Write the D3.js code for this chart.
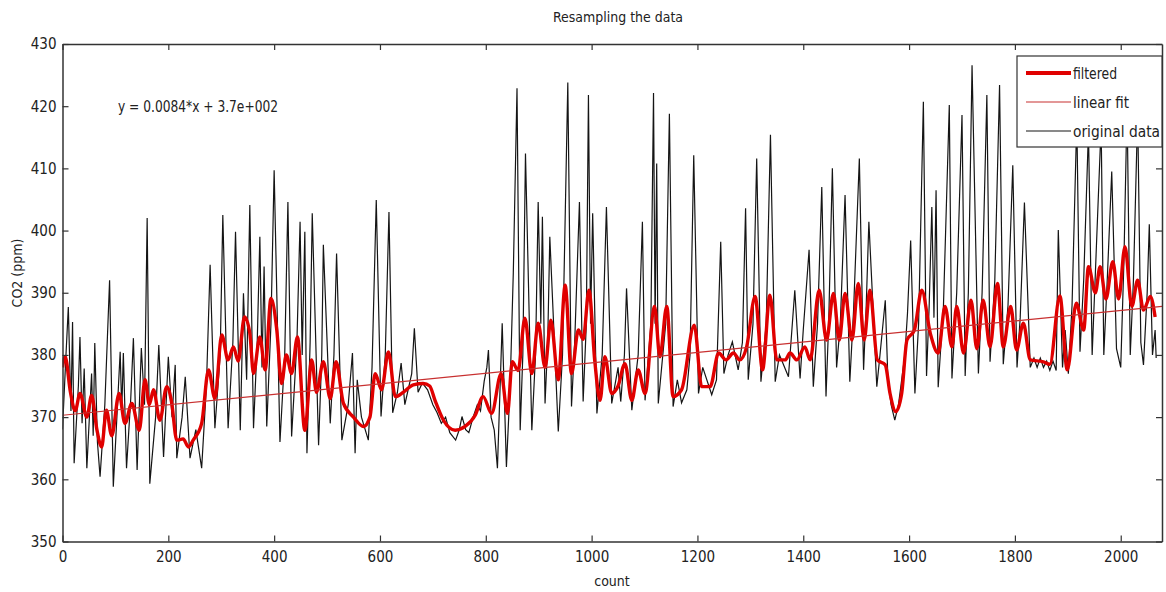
<!DOCTYPE html>
<html>
<head>
<meta charset="utf-8">
<script src="https://cdn.jsdelivr.net/npm/d3@7"></script>
<style>
  body { margin: 0; background: #fff; }
  svg text { font-family: "Liberation Sans Narrow", "DejaVu Sans Condensed", "Liberation Sans", sans-serif; fill: #222; }
</style>
</head>
<body>
<svg id="chart" width="1166" height="592"></svg>
<script>
// values: [count, CO2 ppm]
const original = [
  [0,368],[6,379],[11,387.7],[16,371],[19,385.3],[22,362.6],[30,375],[33,382.9],[37,369],[41,377.8],
  [46,361.8],[52,372],[55,377],[58,367],[61,381.9],[66,366],[71,360.4],[80,372],[89,392],[96,358.8],
  [104,372],[109,380.5],[112,371],[115,380.3],[121,361.8],[129,373],[134,382.7],[141,361.5],[149,381.1],[155,372],
  [160,402],[165,359.3],[176,370],[182,381.6],[191,363.6],[200,379.7],[207,370],[213,378.4],[216,363.4],[226,370],
  [232,376.5],[241,363.4],[252,368],[263,361.8],[272,375],[279,394.5],[288,368.2],[298,380],[303,402.5],[313,368.2],
  [322,382],[327,399.8],[336,367.9],[342,389.9],[348,376],[354,404.1],[361,368.2],[368,382],[373,399],[377,378],
  [381,394.2],[386,368.5],[394,385],[400,409.7],[411,366],[420,380],[426,404.6],[433,366.9],[443,382],[449,401.4],
  [453,380],[458,399.8],[462,364.2],[468,382],[472,402.8],[484,365.5],[490,380],[493,397.7],[506,369],[513,380],
  [518,396.3],[528,366.3],[540,372],[548,380.3],[553,364.2],[557,376],[565,370],[578,366.3],[585,378],[593,404.9],
  [602,370.1],[610,380],[617,403],[624,370.7],[633,374],[640,378.7],[647,372],[660,377],[665,384.3],[672,374],
  [680,375.5],[690,374.4],[700,372],[708,370.7],[716,369],[724,370],[732,367.5],[743,366.3],[750,368],[755,370.1],
  [762,368],[768,367.5],[776,370],[784,372],[790,371],[797,375.8],[802,378],[805,380.8],[810,370],[816,367.9],
  [822,361.8],[831,385.1],[839,362],[846,375],[852,393.2],[859,422.9],[865,367.9],[870,380],[875,412.4],[887,367.9],
  [894,380],[899,404.6],[904,385],[907,402.2],[912,372.2],[917,382],[921,399],[937,367.7],[945,380],[955,423.8],
  [962,371.7],[968,382],[977,404.6],[984,372.5],[990,385],[994,421.8],[998,385],[1002,402.8],[1010,370.6],[1020,380],
  [1028,403.8],[1038,372.2],[1050,378],[1055,372.5],[1062,380],[1066,390.7],[1076,371.1],[1088,380],[1096,401.4],[1101,372.7],
  [1112,385],[1117,422.1],[1120,385],[1123,410.8],[1126,372.2],[1140,385],[1147,418.8],[1154,371.7],[1162,376],[1170,372.3],
  [1180,374.4],[1186,380],[1193,412.1],[1202,373.8],[1210,378],[1227,373.6],[1236,376],[1244,398.2],[1250,377],[1258,380],
  [1266,382.1],[1277,377.6],[1285,382],[1291,403.6],[1296,376],[1305,385],[1312,411.6],[1320,375.7],[1330,385],[1338,415.4],
  [1347,375.7],[1355,380],[1360,379],[1372,376.5],[1384,390.4],[1394,376.2],[1400,384],[1411,396.9],[1419,374.9],[1427,385],
  [1435,407],[1443,373.3],[1448,385],[1455,410],[1463,378],[1470,385],[1479,405.7],[1488,375.7],[1495,387],[1506,411.6],
  [1514,377.6],[1519,388],[1524,401.4],[1539,374.9],[1545,380],[1555,388.8],[1560,376],[1566,372],[1573,369.5],[1580,372],
  [1586,376],[1592,380],[1597,386.7],[1603,398.4],[1611,373.8],[1618,385],[1627,420.7],[1633,376.6],[1638,388],[1643,403.8],
  [1647,386],[1651,406.5],[1655,374.8],[1665,388],[1676,420.2],[1681,376.2],[1690,390],[1700,418.6],[1706,376.6],[1712,390],
  [1719,426.6],[1731,377],[1738,390],[1747,421.8],[1753,378.9],[1762,392],[1771,423.4],[1778,378.5],[1787,388],[1796,410.5],
  [1804,378],[1810,386],[1818,404.5],[1829,378],[1836,379.5],[1842,378],[1848,379.5],[1854,378],[1860,379],[1866,377.5],
  [1872,379],[1878,377.5],[1882,400.1],[1890,378],[1895,384],[1901,377],[1908,388],[1917,418],[1923,380.5],[1930,392],
  [1939,416],[1946,380],[1952,393],[1963,417],[1968,380],[1975,393],[1983,409.5],[1992,381],[2000,378],[2006,395],
  [2012,420],[2018,380],[2024,392],[2032,419],[2038,382],[2043,378.4],[2050,390],[2054,401],[2060,380],[2065,384],[2067,379.5]
];

const filtered = [
  [0,378],[5,379.7],[15,374],[24,371],[33,373.8],[46,370],[55,373.5],[65,368],[74,365.2],[83,371.1],
  [93,367],[107,373.8],[118,369],[131,372.2],[145,367.9],[156,376],[164,372],[172,374.4],[184,369.5],[197,374.9],
  [206,372.5],[216,366.3],[228,366.5],[238,365.2],[247,366.3],[263,369],[276,377.6],[288,373],[301,383.2],[313,379.2],
  [323,381.3],[332,379],[344,386.1],[354,383.5],[361,377],[373,382.9],[383,377.6],[394,389.1],[405,384],[414,375.4],
  [423,380],[433,377],[444,382.9],[458,367.9],[471,379.2],[480,374],[493,378.9],[506,373],[517,378.9],[531,372.2],
  [550,370],[569,368.5],[581,370],[591,377],[603,374.4],[616,380.5],[629,373.3],[644,374],[663,375.2],[682,375.4],
  [694,375],[704,372.7],[720,369.5],[742,367.9],[761,368.5],[780,370.3],[795,373.3],[811,370.6],[829,377],[841,370.6],
  [850,378.9],[861,377.5],[874,385.9],[887,377],[899,385.1],[912,378],[923,385.6],[937,376],[950,391.2],[962,377],
  [975,384],[984,382.5],[995,390.4],[1006,379],[1016,372.7],[1025,379.7],[1038,373.8],[1050,375],[1063,378.6],[1076,372.7],
  [1088,377.6],[1101,373.8],[1119,387.8],[1129,379.7],[1142,387.8],[1154,373.3],[1170,374.4],[1194,384.8],[1208,374.9],[1224,374.9],
  [1240,380.3],[1254,379.2],[1268,380.3],[1280,379.2],[1293,381.3],[1309,389.4],[1323,377.6],[1337,389.6],[1350,379.2],[1366,379.2],
  [1375,380.3],[1388,379.2],[1403,381.3],[1413,379.2],[1430,390.4],[1444,382.4],[1457,389.9],[1468,382.4],[1479,389.9],[1492,382.4],
  [1504,391.5],[1515,382.4],[1526,390.4],[1540,379.2],[1555,378.4],[1564,373.8],[1575,370.9],[1586,373.8],[1596,382.4],[1610,384],
  [1624,390.4],[1640,383.5],[1655,380.3],[1668,387.8],[1681,381.3],[1690,387.8],[1703,380.3],[1717,388.8],[1728,381],[1740,388.8],
  [1753,381.3],[1767,391.5],[1778,381.3],[1792,387.8],[1803,380.8],[1816,385.1],[1829,379.2],[1854,378.9],[1866,378.5],[1885,389.5],
  [1899,377.6],[1916,388.3],[1930,384],[1939,394.2],[1952,390],[1961,394.2],[1972,389],[1985,395],[1996,389],[2008,397.4],
  [2021,387.8],[2032,392],[2043,387.2],[2056,389.4],[2065,386.1]
];

const linearFit = [[0,370.3],[2078,387.8]];

const xTicks = [0,200,400,600,800,1000,1200,1400,1600,1800,2000];
const yTicks = [350,360,370,380,390,400,410,420,430];
const legendItems = ["filtered","linear fit","original data"];

const svg = d3.select("#chart");
const mLeft = 62.5, mRight = 1162, mTop = 44, mBottom = 541.5;

const x = d3.scaleLinear().domain([0, 2078]).range([mLeft, mRight]);
const y = d3.scaleLinear().domain([350, 430]).range([mBottom, mTop]);

svg.append("defs").append("clipPath").attr("id","plotclip")
  .append("rect").attr("x",mLeft).attr("y",mTop).attr("width",mRight-mLeft).attr("height",mBottom-mTop);

const line = d3.line().x(d => x(d[0])).y(d => y(d[1]));
const smooth = d3.line().x(d => x(d[0])).y(d => y(d[1])).curve(d3.curveMonotoneX);
const plot = svg.append("g").attr("clip-path","url(#plotclip)");

plot.append("path").datum(original)
  .attr("d", line).attr("fill","none").attr("stroke","#151515").attr("stroke-width",1.2);

plot.append("path").datum(filtered)
  .attr("d", smooth).attr("fill","none")
  .attr("stroke","#e00000").attr("stroke-width",3.4).attr("stroke-linejoin","round");

plot.append("path").datum(linearFit)
  .attr("d", line).attr("fill","none")
  .attr("stroke","#c83030").attr("stroke-width",1.2);

// axes, MATLAB-style box with inward ticks
function styleAxis(g) {
  g.select(".domain").attr("stroke","#333").attr("stroke-width",1.5);
  g.selectAll(".tick line").attr("stroke","#333").attr("stroke-width",1.2);
  g.selectAll(".tick text").style("font-size","15px").attr("fill","#222");
}
const fmt = d3.format("d");
svg.append("g").attr("transform",`translate(0,${mBottom})`)
  .call(d3.axisBottom(x).tickValues(xTicks).tickFormat(fmt).tickSizeInner(-6).tickSizeOuter(0).tickPadding(10))
  .call(styleAxis);
svg.append("g").attr("transform",`translate(0,${mTop})`)
  .call(d3.axisTop(x).tickValues(xTicks).tickSizeInner(-6).tickSizeOuter(0).tickFormat(""))
  .call(styleAxis);
svg.append("g").attr("transform",`translate(${mLeft},0)`)
  .call(d3.axisLeft(y).tickValues(yTicks).tickFormat(fmt).tickSizeInner(-6).tickSizeOuter(0).tickPadding(6))
  .call(styleAxis);
svg.append("g").attr("transform",`translate(${mRight},0)`)
  .call(d3.axisRight(y).tickValues(yTicks).tickSizeInner(-6).tickSizeOuter(0).tickFormat(""))
  .call(styleAxis);

svg.append("text").attr("x",618).attr("y",22).attr("text-anchor","middle")
  .style("font-size","14px").attr("textLength",130).attr("lengthAdjust","spacingAndGlyphs")
  .text("Resampling the data");
svg.append("text").attr("x",612).attr("y",586).attr("text-anchor","middle")
  .style("font-size","14px").text("count");
svg.append("text").attr("transform","translate(22,273) rotate(-90)").attr("text-anchor","middle")
  .style("font-size","14px").text("CO2 (ppm)");
svg.append("text").attr("x",118).attr("y",112)
  .style("font-size","16px").attr("textLength",160).attr("lengthAdjust","spacingAndGlyphs")
  .text("y = 0.0084*x + 3.7e+002");

// legend
const lg = svg.append("g");
lg.append("rect").attr("x",1017).attr("y",56).attr("width",145).attr("height",91)
  .attr("fill","#fff").attr("stroke","#333").attr("stroke-width",1.2);
const legendStroke = ["#e00000","#c83030","#151515"];
const legendWidth = [4,1.2,1.2];
const legendTextW = [44,56,87];
legendItems.forEach((name, i) => {
  const yy = 73 + i * 29;
  lg.append("line").attr("x1",1026).attr("x2",1071).attr("y1",yy).attr("y2",yy)
    .attr("stroke",legendStroke[i]).attr("stroke-width",legendWidth[i]);
  lg.append("text").attr("x",1073).attr("y",yy+6).style("font-size","16px")
    .attr("textLength",legendTextW[i]).attr("lengthAdjust","spacingAndGlyphs").text(name);
});
</script>
</body>
</html>
